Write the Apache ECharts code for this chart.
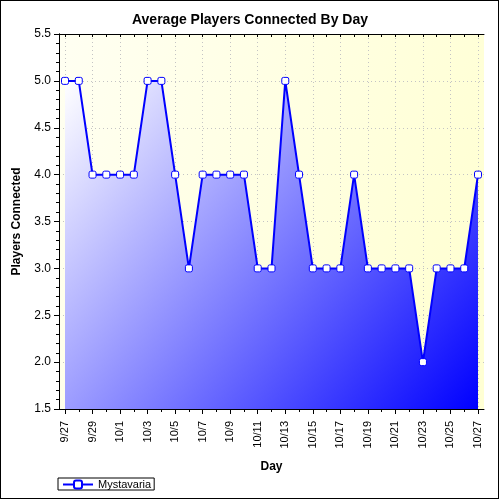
<!DOCTYPE html>
<html>
<head>
<meta charset="utf-8">
<script src="https://cdn.jsdelivr.net/npm/echarts@6/dist/echarts.min.js"></script>
<style>
  body{margin:0;background:#fff;}
  #wrap{position:relative;width:500px;height:500px;}
  #chart{width:500px;height:500px;}
  #frame{position:absolute;left:0;top:0;width:497px;height:497px;border:1px solid #000;pointer-events:none;}
</style>
</head>
<body>
<div id="wrap">
  <div id="chart"></div>
  <div id="frame"></div>
</div>
<script>
var days = ['9/27','9/28','9/29','9/30','10/1','10/2','10/3','10/4','10/5','10/6','10/7','10/8','10/9','10/10','10/11','10/12',
  '10/13','10/14','10/15','10/16','10/17','10/18','10/19','10/20','10/21','10/22','10/23','10/24','10/25','10/26','10/27'];
var players = [5,5,4,4,4,4,5,5,4,3,4,4,4,4,3,3,5,4,3,3,3,4,3,3,3,3,2,3,3,3,4];
var yMin = 1.5, yMax = 5.5, yStep = 0.5;

var font = 'Liberation Sans, Arial, sans-serif';
var dotted = {color:'#c4c4c4', width:1, type:[1,3]};
var myChart = echarts.init(document.getElementById('chart'));

var option = {
  animation: false,
  title: {
    text: 'Average Players Connected By Day',
    left: 'center', top: 8,
    textStyle: {fontFamily: font, fontSize: 14, fontWeight: 'bold', color: '#000'}
  },
  legend: {
    left: 58, top: 478,
    data: ['Mystavaria'],
    borderColor: '#000', borderWidth: 1,
    padding: [1, 3, 0, 4],
    itemWidth: 30, itemHeight: 10, itemGap: 4,
    textStyle: {fontFamily: font, fontSize: 11, color: '#000'}
  },
  grid: [
    {left: 59, right: 16, top: 34, bottom: 91, show: true, borderWidth: 0,
      backgroundColor: new echarts.graphic.LinearGradient(0, 0, 1, 0.4, [
        {offset: 0, color: '#fffff2'}, {offset: 1, color: '#ffffd4'}])},
    {left: 65, right: 22, top: 34, bottom: 91}
  ],
  xAxis: [
    // frame lines
    {gridIndex: 0, type: 'value', min: 0, max: 1, position: 'bottom',
      axisLine: {show: true, lineStyle: {color: '#000', width: 1}},
      axisTick: {show: false}, axisLabel: {show: false}, splitLine: {show: false}},
    {gridIndex: 0, type: 'value', min: 0, max: 1, position: 'top',
      axisLine: {show: true, lineStyle: {color: '#000', width: 1}},
      axisTick: {show: false}, axisLabel: {show: false}, splitLine: {show: false}},
    // day axis with labels and major ticks
    {gridIndex: 1, type: 'category', data: days, boundaryGap: false, position: 'bottom',
      name: 'Day', nameLocation: 'middle', nameGap: 52,
      nameTextStyle: {fontFamily: font, fontSize: 12, fontWeight: 'bold', color: '#000'},
      axisLine: {show: false},
      axisTick: {show: true, interval: 1, length: 5, lineStyle: {color: '#000'}},
      axisLabel: {interval: 1, rotate: 90, margin: 12, fontFamily: font, fontSize: 11, color: '#000'},
      splitLine: {show: true, interval: 1, lineStyle: dotted}},
    // minor day ticks
    {gridIndex: 1, type: 'category', data: days, boundaryGap: false, position: 'bottom',
      axisLine: {show: false},
      axisTick: {show: true, interval: 0, length: 3, lineStyle: {color: '#000'}},
      axisLabel: {show: false}, splitLine: {show: false}},
    {gridIndex: 1, type: 'category', data: days, boundaryGap: false, position: 'top',
      axisLine: {show: false},
      axisTick: {show: true, inside: true, interval: 0, length: 3, lineStyle: {color: '#000'}},
      axisLabel: {show: false}, splitLine: {show: false}}
  ],
  yAxis: [
    {gridIndex: 0, type: 'value', min: yMin, max: yMax, interval: yStep, position: 'left',
      name: 'Players Connected', nameLocation: 'middle', nameGap: 36,
      nameTextStyle: {fontFamily: font, fontSize: 12, fontWeight: 'bold', color: '#000'},
      axisLine: {show: true, lineStyle: {color: '#000', width: 1}},
      axisTick: {show: true, length: 5, lineStyle: {color: '#000'}},
      minorTick: {show: true, splitNumber: 5, length: 3, lineStyle: {color: '#000'}},
      axisLabel: {margin: 8, fontFamily: font, fontSize: 12, color: '#000',
        formatter: function(v){ return v.toFixed(1); }},
      splitLine: {show: true, lineStyle: dotted}},
    {gridIndex: 0, type: 'value', min: yMin, max: yMax, interval: yStep, position: 'right',
      axisLine: {show: true, lineStyle: {color: '#000', width: 1}},
      axisTick: {show: true, inside: true, length: 5, lineStyle: {color: '#000'}},
      minorTick: {show: true, splitNumber: 5, length: 3, lineStyle: {color: '#000'}},
      axisLabel: {show: false}, splitLine: {show: false}},
    {gridIndex: 1, type: 'value', min: yMin, max: yMax, interval: yStep, show: false}
  ],
  series: [
    {
      name: 'Mystavaria',
      type: 'line',
      xAxisIndex: 2, yAxisIndex: 2,
      data: players,
      symbol: 'roundRect', symbolSize: 7,
      itemStyle: {color: '#ffffff', borderColor: '#0000ff', borderWidth: 1},
      lineStyle: {color: '#0000ff', width: 2},
      areaStyle: {
        opacity: 1, origin: 'start',
        color: new echarts.graphic.LinearGradient(0, 0, 1, 1, [
          {offset: 0, color: '#ffffff'}, {offset: 1, color: '#0000ff'}])
      },
      z: 3
    }
  ]
};
myChart.setOption(option);
</script>
</body>
</html>
